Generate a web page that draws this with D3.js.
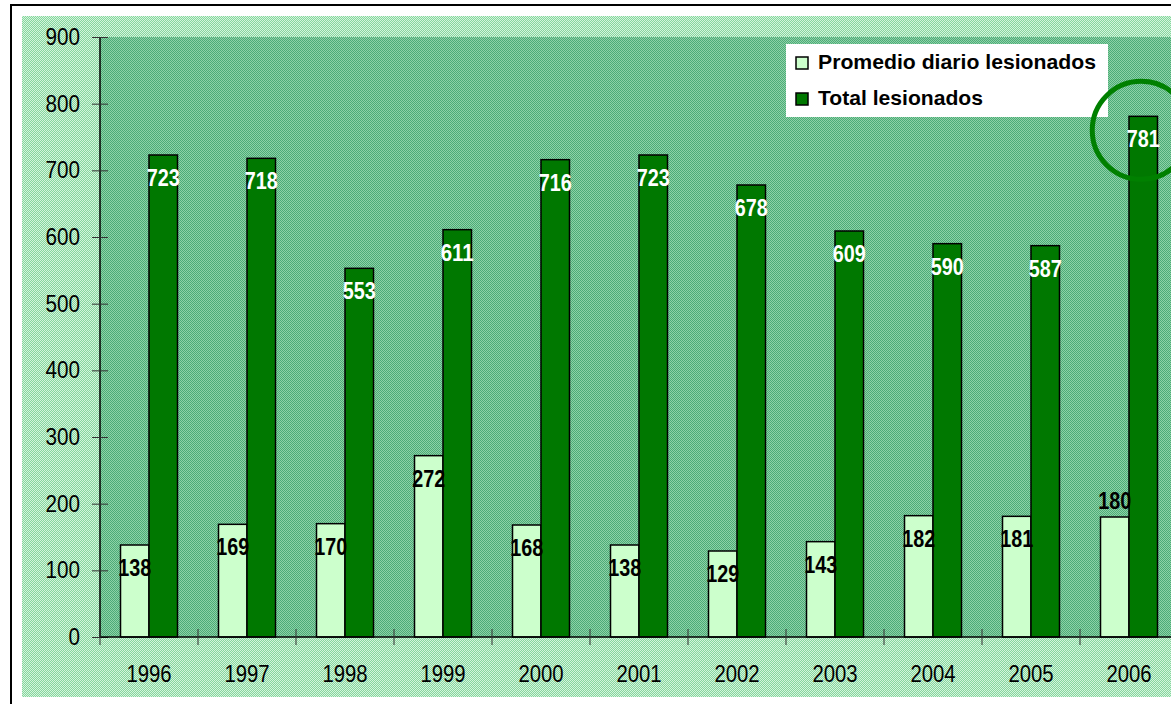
<!DOCTYPE html>
<html>
  <head>
    <meta charset="UTF-8">
    <title>Lesionados 1996-2006</title>
    <script src="https://d3js.org/d3.v7.min.js"></script>
    <style>
      body { margin: 0; background: #fff; }
      text { font-family: "Liberation Sans", Arial, sans-serif; }
    </style>
  </head>
  <body>
    <svg width="1171" height="704"></svg>
    <script>
      // Data
      var years = ["1996", "1997", "1998", "1999", "2000", "2001", "2002", "2003", "2004", "2005", "2006"];
      var promedio = [138, 169, 170, 272, 168, 138, 129, 143, 182, 181, 180];
      var total = [723, 718, 553, 611, 716, 723, 678, 609, 590, 587, 781];
      var yTicks = [0, 100, 200, 300, 400, 500, 600, 700, 800, 900];
      var seriesNames = ["Promedio diario lesionados", "Total lesionados"];

      var svg = d3.select("svg");
      var margin = {top: 37, left: 100},
          plotW = 1078, plotH = 600;

      // the original uses a narrow font, squeeze text horizontally
      function narrow(sel, perChar) {
        sel.attr("textLength", function() { return this.textContent.length * perChar; })
           .attr("lengthAdjust", "spacingAndGlyphs");
      }

      // dithered backgrounds like the old Excel fill
      var defs = svg.append("defs");
      function dither(id, c1, c2) {
        var p = defs.append("pattern").attr("id", id)
            .attr("patternUnits", "userSpaceOnUse").attr("width", 2).attr("height", 2);
        p.append("rect").attr("width", 2).attr("height", 2).attr("fill", c1);
        p.append("rect").attr("width", 1).attr("height", 1).attr("fill", c2);
        p.append("rect").attr("x", 1).attr("y", 1).attr("width", 1).attr("height", 1).attr("fill", c2);
      }
      dither("outer", "#86d69e", "#d4f4dc");
      dither("inner", "#4cab78", "#8ed2a6");

      // outer frame
      svg.append("rect").attr("x", 11).attr("y", 5).attr("width", 1200).attr("height", 720)
          .attr("fill", "#fff").attr("stroke", "#000").attr("stroke-width", 2);
      svg.append("rect").attr("x", 22).attr("y", 16).attr("width", 1160).attr("height", 681)
          .attr("fill", "url(#outer)");

      var g = svg.append("g").attr("transform", "translate(" + margin.left + "," + margin.top + ")");

      g.append("rect").attr("width", plotW).attr("height", plotH).attr("fill", "url(#inner)");

      // scales
      var x0 = d3.scaleBand().domain(years).range([0, plotW]).padding(0);
      var x1 = d3.scaleBand().domain([0, 1]).range([0, x0.bandwidth()])
          .paddingInner(0).paddingOuter(0.72);
      var y = d3.scaleLinear().domain([0, 900]).range([plotH, 0]);

      var colors = ["#ccffcc", "#007800"];
      var series = [promedio, total];

      // bars
      series.forEach(function(vals, s) {
        g.selectAll(".bar" + s)
          .data(vals)
          .enter().append("rect")
          .attr("x", function(d, i) { return x0(years[i]) + x1(s); })
          .attr("y", function(d) { return y(d); })
          .attr("width", x1.bandwidth())
          .attr("height", function(d) { return plotH - y(d); })
          .attr("fill", colors[s])
          .attr("stroke", "#000")
          .attr("stroke-width", 1.5);
      });

      // value labels
      series.forEach(function(vals, s) {
        g.selectAll(".lab" + s)
          .data(vals)
          .enter().append("text")
          .attr("x", function(d, i) { return x0(years[i]) + x1(s) + x1.bandwidth() / 2; })
          .attr("y", function(d, i) {
            // the last light label sits above its bar in the original
            if (s === 0 && i === vals.length - 1) return y(d) - 17 + 9;
            return y(d) + 22 + 9;
          })
          .attr("text-anchor", "middle")
          .attr("font-size", 24)
          .attr("font-weight", "bold")
          .attr("fill", s === 0 ? "#000" : "#fff")
          .text(function(d) { return d; })
          .call(narrow, 11);
      });

      // y axis
      var yAxis = g.append("g").call(d3.axisLeft(y).tickValues(yTicks).tickSize(8).tickPadding(12));
      yAxis.select(".domain").attr("stroke", "#000").attr("stroke-width", 1.5).attr("d", "M0,0V" + plotH);
      yAxis.selectAll(".tick line").attr("x1", 8).attr("stroke", "#333");
      yAxis.selectAll(".tick text").attr("font-size", 23).attr("fill", "#000")
          .style("font-family", "'Liberation Sans', Arial, sans-serif")
          .call(narrow, 11.5);

      // x axis: boundary ticks + centered labels
      var xAxis = g.append("g").attr("transform", "translate(0," + plotH + ")");
      xAxis.append("line").attr("x1", 0).attr("x2", plotW).attr("stroke", "#000").attr("stroke-width", 1.5);
      xAxis.selectAll(".xt")
        .data(years.concat(["end"]))
        .enter().append("line")
        .attr("x1", function(d) { return d === "end" ? plotW : x0(d); })
        .attr("x2", function(d) { return d === "end" ? plotW : x0(d); })
        .attr("y1", -8).attr("y2", 8)
        .attr("stroke", "#333");
      xAxis.selectAll(".xl")
        .data(years)
        .enter().append("text")
        .attr("x", function(d) { return x0(d) + x0.bandwidth() / 2; })
        .attr("y", 45)
        .attr("text-anchor", "middle")
        .attr("font-size", 23)
        .text(function(d) { return d; })
        .call(narrow, 11.3);

      // legend
      var legend = svg.append("g").attr("transform", "translate(786,44)");
      legend.append("rect").attr("width", 322).attr("height", 73).attr("fill", "#fff");
      var legendW = [278, 165];
      seriesNames.forEach(function(name, i) {
        var row = legend.append("g").attr("transform", "translate(10," + (13 + i * 36) + ")");
        row.append("rect").attr("width", 12).attr("height", 12)
            .attr("fill", colors[i]).attr("stroke", "#000").attr("stroke-width", 1.5);
        row.append("text").attr("x", 22).attr("y", 12)
            .attr("font-size", 21).attr("font-weight", "bold")
            .attr("textLength", legendW[i]).attr("lengthAdjust", "spacingAndGlyphs")
            .text(name);
      });

      // highlight circle around the 2006 total
      var last = years.length - 1;
      svg.append("circle")
          .attr("cx", margin.left + x0(years[last]) + x1(1) + x1.bandwidth() / 2 - 2)
          .attr("cy", margin.top + y(total[last]) + 14)
          .attr("r", 49)
          .attr("fill", "none")
          .attr("stroke", "#008000")
          .attr("stroke-width", 5);
    </script>
  </body>
</html>
